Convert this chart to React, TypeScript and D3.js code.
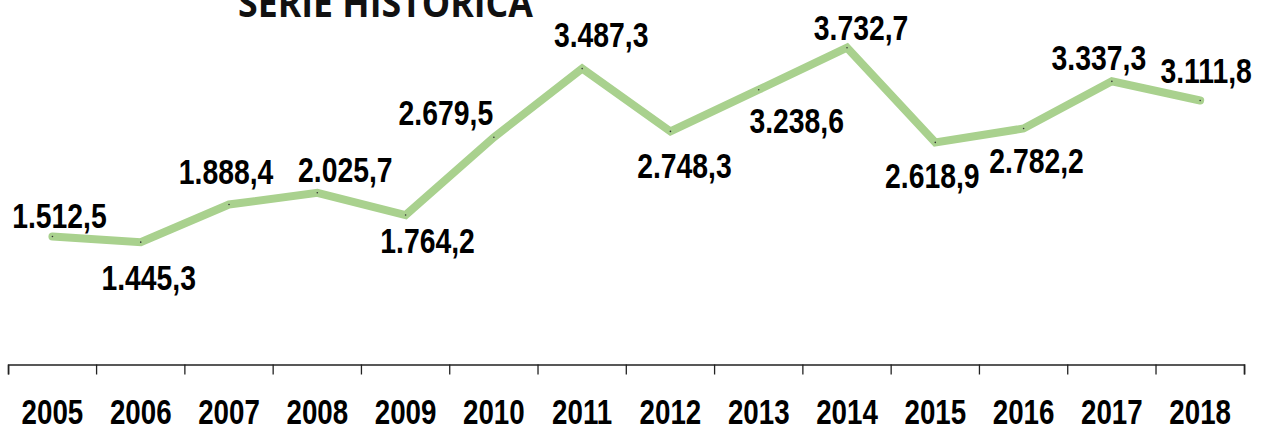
import React, { useRef, useEffect } from "react";
import * as d3 from "d3";

const years = ["2005", "2006", "2007", "2008", "2009", "2010", "2011", "2012", "2013", "2014", "2015", "2016", "2017", "2018"];
const values = [1512.5, 1445.3, 1888.4, 2025.7, 1764.2, 2679.5, 3487.3, 2748.3, 3238.6, 3732.7, 2618.9, 2782.2, 3337.3, 3111.8];
const title = "SERIE HISTORICA";

// manual label placement (dx, dy from the point), like the original chart
const labelOffsets: [number, number][] = [
  [7, -8], [8, 48], [-3, -20], [28, -11], [22, 38], [-48, -12], [19, -22],
  [14, 47], [38, 43], [14, -8], [-3, 46], [13, 44], [-13, -11], [6, -17],
];

const fmt = (v: number) => {
  const [i, d] = v.toFixed(1).split(".");
  return i.replace(/\B(?=(\d{3})+(?!\d))/g, ".") + "," + d;
};

const App = () => {
  const ref = useRef<HTMLDivElement>(null);

  useEffect(() => {
    const width = 1261;
    const height = 426;
    const axisY = 365;
    // no narrow font installed: squeeze Liberation Sans bold horizontally
    const font = "'Liberation Sans', Arial, sans-serif";

    const svg = d3
      .select(ref.current)
      .append("svg")
      .attr("width", width)
      .attr("height", height)
      .style("position", "absolute")
      .style("left", 0)
      .style("top", 0)
      .style("background", "#fff");

    const x = d3.scaleBand().domain(years).range([8.3, 1244.3]);
    const y = d3.scaleLinear().domain([0, 4000]).range([axisY, 25]);
    const cx = (d: string) => (x(d) as number) + x.bandwidth() / 2;

    svg
      .append("text")
      .attr("x", 238)
      .attr("y", 17)
      .attr("textLength", 295)
      .attr("lengthAdjust", "spacingAndGlyphs")
      .attr("font-size", 40)
      .attr("font-weight", "bold")
      .style("font-family", "'Open Sans', sans-serif")
      .attr("fill", "#111")
      .text(title);

    // axis
    const axis = d3.axisBottom(x).tickSize(10).tickSizeOuter(10).tickFormat(() => "");
    const g = svg.append("g").attr("transform", `translate(0,${axisY - 0.5})`).call(axis);
    g.select(".domain").attr("stroke", "#222").attr("stroke-width", 1.3);
    g.selectAll(".tick line").attr("stroke", "#222").attr("stroke-width", 1.3)
      .attr("transform", `translate(${-x.bandwidth() / 2},0)`);
    g.append("line")
      .attr("x1", 1244.3).attr("x2", 1244.3).attr("y1", 0).attr("y2", 10)
      .attr("stroke", "#222").attr("stroke-width", 1.3);

    svg
      .append("g")
      .selectAll("text")
      .data(years)
      .enter()
      .append("text")
      .attr("transform", (d) => `translate(${cx(d)},424) scale(0.77,1)`)
      .attr("text-anchor", "middle")
      .attr("font-size", 36)
      .attr("font-weight", "bold")
      .style("font-family", font)
      .attr("fill", "#000")
      .text((d) => d);

    const line = d3
      .line<number>()
      .x((_, i) => cx(years[i]))
      .y((d) => y(d));

    svg
      .append("path")
      .datum(values)
      .attr("d", line)
      .attr("fill", "none")
      .attr("stroke", "#a9d18e")
      .attr("stroke-width", 8)
      .attr("stroke-linecap", "round")
      .attr("stroke-linejoin", "miter");

    svg
      .append("g")
      .selectAll("circle")
      .data(values)
      .enter()
      .append("circle")
      .attr("cx", (_, i) => cx(years[i]))
      .attr("cy", (d) => y(d))
      .attr("r", 0.8)
      .attr("fill", "#333");

    svg
      .append("g")
      .selectAll("text")
      .data(values)
      .enter()
      .append("text")
      .attr(
        "transform",
        (d, i) =>
          `translate(${cx(years[i]) + labelOffsets[i][0]},${y(d) + labelOffsets[i][1]}) scale(0.81,1)`
      )
      .attr("text-anchor", "middle")
      .attr("font-size", 35)
      .attr("font-weight", "bold")
      .style("font-family", font)
      .attr("fill", "#000")
      .text((d) => fmt(d));

    return () => {
      svg.remove();
    };
  }, []);

  return <div ref={ref}></div>;
};

export default App;
